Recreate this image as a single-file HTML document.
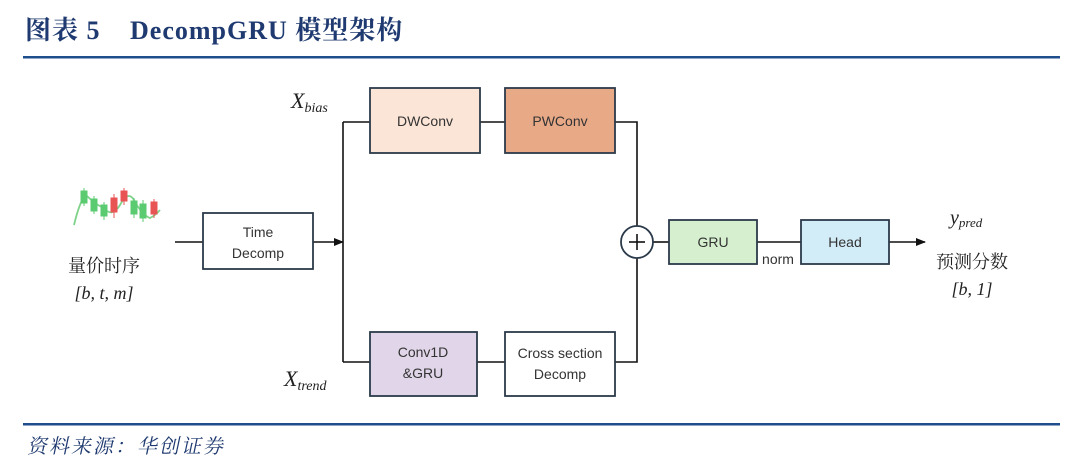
<!DOCTYPE html>
<html><head><meta charset="utf-8"><style>
html,body{margin:0;padding:0;background:#fff;width:1080px;height:473px;overflow:hidden}
svg{display:block}
.b{font-family:"Liberation Sans","Noto Sans CJK SC",sans-serif;font-size:14px;fill:#333;text-anchor:middle}
.m{font-family:"Liberation Serif",serif;font-style:italic;fill:#222}
.c{font-family:"Liberation Serif","Noto Serif CJK SC",serif;font-size:18px;fill:#222;text-anchor:middle}
</style></head><body>
<svg width="1080" height="473" viewBox="0 0 1080 473" xmlns="http://www.w3.org/2000/svg">
<defs><marker id="a" markerWidth="10" markerHeight="10" refX="9" refY="5" orient="auto" markerUnits="userSpaceOnUse"><path d="M0,1 L10,5 L0,9 z" fill="#111"/></marker></defs>
<text x="25" y="39" font-family="Liberation Serif,'Noto Serif CJK SC',serif" font-weight="bold" font-size="26" fill="#1F3A70" letter-spacing="1">图表 5<tspan x="130">DecompGRU 模型架构</tspan></text>
<rect x="23" y="56" width="1037" height="2.5" fill="#1F4E8C"/>
<rect x="23" y="423" width="1037" height="2.5" fill="#1F4E8C"/>
<text transform="translate(27,453) skewX(-12)" x="0" y="0" font-family="'Noto Serif CJK SC',serif" font-size="20" fill="#1F3A70" letter-spacing="2">资料来源：华创证券</text>

<g stroke="#111" stroke-width="1.6" fill="none">
<line x1="175" y1="242" x2="203" y2="242"/>
<line x1="313" y1="242" x2="343" y2="242" marker-end="url(#a)"/>
<line x1="343" y1="122" x2="343" y2="362"/>
<line x1="343" y1="122" x2="370" y2="122"/>
<line x1="480" y1="122" x2="505" y2="122"/>
<polyline points="615,122 637,122 637,226"/>
<line x1="343" y1="362" x2="370" y2="362"/>
<line x1="477" y1="362" x2="505" y2="362"/>
<polyline points="615,362 637,362 637,258"/>
<line x1="653" y1="242" x2="669" y2="242"/>
<line x1="757" y1="242" x2="801" y2="242"/>
<line x1="889" y1="242" x2="925" y2="242" marker-end="url(#a)"/>
</g>
<g stroke="#2b3a4a" stroke-width="1.8">
<rect x="203" y="213" width="110" height="56" fill="#fff"/>
<rect x="370" y="88" width="110" height="65" fill="#FBE5D6"/>
<rect x="505" y="88" width="110" height="65" fill="#E8A987"/>
<rect x="370" y="332" width="107" height="64" fill="#E1D6E9"/>
<rect x="505" y="332" width="110" height="64" fill="#fff"/>
<rect x="669" y="220" width="88" height="44" fill="#D6F0CF"/>
<rect x="801" y="220" width="88" height="44" fill="#D2ECF8"/>
<circle cx="637" cy="242" r="16" fill="#fff"/>
</g>
<g stroke="#111" stroke-width="1.6"><line x1="629" y1="242" x2="645" y2="242"/><line x1="637" y1="234" x2="637" y2="250"/></g>

<text class="b" x="258" y="237">Time</text>
<text class="b" x="258" y="258">Decomp</text>
<text class="b" x="425" y="126">DWConv</text>
<text class="b" x="560" y="126">PWConv</text>
<text class="b" x="423" y="357">Conv1D</text>
<text class="b" x="423" y="378">&amp;GRU</text>
<text class="b" x="560" y="358">Cross section</text>
<text class="b" x="560" y="379">Decomp</text>
<text class="b" x="713" y="247">GRU</text>
<text class="b" x="845" y="247">Head</text>
<text class="b" x="778" y="264">norm</text>

<text class="m" x="291" y="108" font-size="22">X<tspan font-size="14" dy="4">bias</tspan></text>
<text class="m" x="284" y="386" font-size="22">X<tspan font-size="14" dy="4">trend</tspan></text>
<text class="m" x="950" y="224" font-size="20">y<tspan font-size="13" dy="3">pred</tspan></text>
<text class="c" x="972" y="268">预测分数</text>
<text class="c" x="972" y="295" font-style="italic">[b, 1]</text>
<text class="c" x="104" y="272">量价时序</text>
<text class="c" x="104" y="299" font-style="italic">[b, t, m]</text>

<g>
<path d="M74,225 Q80,200 86,195 Q96,205 104,208 Q112,218 120,205 Q128,190 134,200 Q142,215 150,218 Q156,215 160,210" stroke="#7ED28A" stroke-width="1.8" fill="none"/>
<g fill="#5BCB72" stroke="#5BCB72">
<line x1="84" y1="188" x2="84" y2="206"/><rect x="81" y="191" width="6" height="12"/>
<line x1="94" y1="196" x2="94" y2="214"/><rect x="91" y="199" width="6" height="12"/>
<line x1="104" y1="202" x2="104" y2="220"/><rect x="101" y="205" width="6" height="11"/>
<line x1="134" y1="198" x2="134" y2="218"/><rect x="131" y="201" width="6" height="13"/>
<line x1="143" y1="200" x2="143" y2="222"/><rect x="140" y="204" width="6" height="14"/>
</g>
<g fill="#E85454" stroke="#E85454">
<line x1="114" y1="194" x2="114" y2="218"/><rect x="111" y="198" width="6" height="14"/>
<line x1="124" y1="188" x2="124" y2="205"/><rect x="121" y="191" width="6" height="10"/>
<line x1="154" y1="199" x2="154" y2="218"/><rect x="151" y="202" width="6" height="12"/>
</g>
</g>
</svg>
</body></html>
